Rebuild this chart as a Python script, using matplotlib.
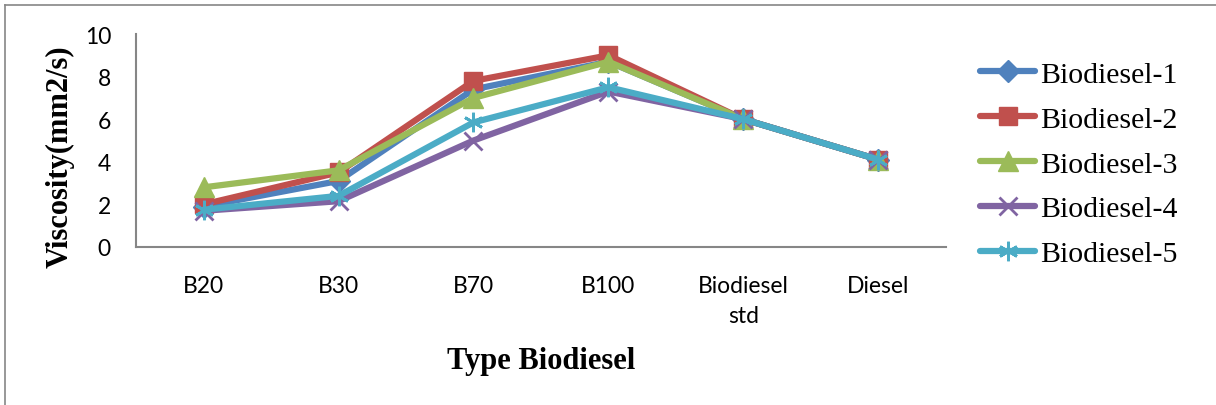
import matplotlib
matplotlib.use("Agg")
import matplotlib.pyplot as plt
from matplotlib.lines import Line2D

categories = ["B20", "B30", "B70", "B100", "Biodiesel\nstd", "Diesel"]
series_names = ["Biodiesel-1", "Biodiesel-2", "Biodiesel-3", "Biodiesel-4", "Biodiesel-5"]
bio1 = [1.9, 3.1, 7.4, 8.7, 6.0, 4.1]
bio2 = [2.0, 3.5, 7.8, 9.0, 6.0, 4.1]
bio3 = [2.8, 3.6, 7.0, 8.7, 6.0, 4.1]
bio4 = [1.7, 2.15, 5.0, 7.3, 6.0, 4.1]
bio5 = [1.75, 2.4, 5.85, 7.5, 6.0, 4.1]
y_ticks = [0, 2, 4, 6, 8, 10]

colors = ["#4F81BD", "#C0504D", "#9BBB59", "#8064A2", "#4BACC6"]
markers = ["D", "s", "^", "x", (6, 2, 0)]
msizes = [11, 13, 14, 13, 14]
mew = [1, 1, 1, 2, 2]

W, H = 1216, 406
fig = plt.figure(figsize=(W / 100, H / 100), dpi=100)
ax = fig.add_axes([136 / W, 1 - 248 / H, 810 / W, 213 / H])

x = list(range(len(categories)))
for vals, name, c, m, ms, mw in zip([bio1, bio2, bio3, bio4, bio5], series_names, colors, markers, msizes, mew):
    ax.plot(x, vals, color=c, lw=4.5, marker=m, markersize=ms, markeredgewidth=mw,
            markeredgecolor=c, markerfacecolor=c, label=name, solid_capstyle="round",
            solid_joinstyle="round")

ax.set_xlim(-0.5, len(categories) - 0.5)
ax.set_ylim(0, 10)
ax.set_yticks(y_ticks)
ax.set_xticks(x)
ax.set_xticklabels(categories, fontfamily="Lato", fontsize=16.5, linespacing=1.55)
for t in ax.get_yticklabels():
    t.set_fontfamily("Lato")
    t.set_fontsize(16.5)
ax.tick_params(axis="both", length=0)
ax.tick_params(axis="y", pad=18)
ax.tick_params(axis="x", pad=20)
for s in ["top", "right"]:
    ax.spines[s].set_visible(False)
for s in ["left", "bottom"]:
    ax.spines[s].set_color("#868686")
    ax.spines[s].set_linewidth(1.5)

fig.text(60 / W, 1 - 157 / H, "Viscosity(mm2/s)", rotation=90, ha="center", va="center",
         fontfamily="Liberation Serif", fontweight="bold", fontsize=22)
fig.text(541 / W, 1 - 362 / H, "Type Biodiesel", ha="center", va="center",
         fontfamily="Liberation Serif", fontweight="bold", fontsize=22)

leg = fig.legend(*ax.get_legend_handles_labels(), loc="upper left",
                 bbox_to_anchor=(980 / W, 1 - 62 / H), frameon=False,
                 prop={"family": "Liberation Serif", "size": 21.5}, handlelength=1.85,
                 handletextpad=0.15, labelspacing=0.6, borderaxespad=0, borderpad=0)

# outer chart border (top and left visible)
fig.add_artist(Line2D([5 / W, 5 / W], [0, 1 - 6 / H], transform=fig.transFigure,
                      color="#868686", lw=1.2))
fig.add_artist(Line2D([5 / W, 1], [1 - 6 / H, 1 - 6 / H], transform=fig.transFigure,
                      color="#868686", lw=1.2))

fig.savefig("out.png", dpi=100)
